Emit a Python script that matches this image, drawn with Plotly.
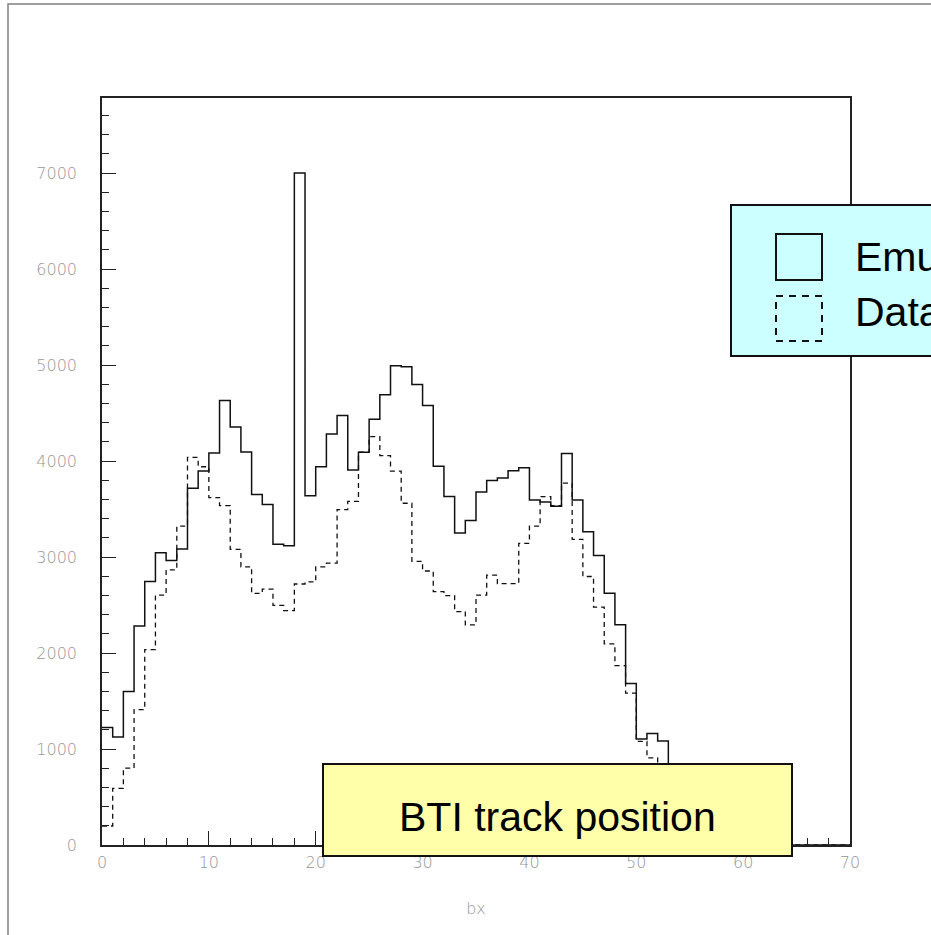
import plotly.graph_objects as go

# ---- data (bin width 1, bins 0..69) ----
bin_edges = list(range(0, 71))
emulator = [1223, 1126, 1600, 2281, 2744, 3045, 2963, 3084, 3716, 3895,
            4084, 4629, 4353, 4095, 3651, 3547, 3134, 3117, 7000, 3639,
            3940, 4281, 4475, 3905, 4092, 4435, 4690, 4992, 4981, 4798,
            4579, 3945, 3629, 3249, 3381, 3676, 3798, 3823, 3898, 3930,
            3594, 3572, 3529, 4077, 3594, 3264, 3016, 2622, 2295, 1682,
            1104, 1162, 1083, 700, 420, 220, 90, 30, 0, 0,
            0, 0, 0, 0, 0, 0, 0, 0, 0, 0]
data = [198, 589, 800, 1410, 2036, 2603, 2866, 3321, 4037, 3940,
        3619, 3535, 3080, 2898, 2622, 2665, 2496, 2442, 2719, 2740,
        2898, 2937, 3493, 3579, 4092, 4253, 4056, 3895, 3560, 2955,
        2854, 2640, 2597, 2431, 2292, 2603, 2811, 2722, 2722, 3142,
        3321, 3629, 3535, 3769, 3184, 2797, 2478, 2095, 1869, 1581,
        1079, 907, 800, 550, 300, 150, 50, 0, 0, 0,
        0, 0, 0, 0, 0, 0, 0, 0, 0, 0]
x_ticks = [0, 10, 20, 30, 40, 50, 60, 70]
y_ticks = [0, 1000, 2000, 3000, 4000, 5000, 6000, 7000]
title_text = "BTI track position"
legend_labels = ["Emulator", "Data"]
x_title = "bx"

W, H = 931, 935
L, R, T, B = 102, 850, 98, 845


def px(x):
    return (x - L) / (R - L)


def py(y):
    return (B - y) / (B - T)


fig = go.Figure()
fig.add_trace(go.Scatter(x=bin_edges, y=data + [data[-1]], mode="lines",
                         line=dict(shape="hv", color="#111", width=1.3, dash="5px,4px"),
                         showlegend=False, hoverinfo="skip"))
fig.add_trace(go.Scatter(x=bin_edges, y=emulator + [emulator[-1]], mode="lines",
                         line=dict(shape="hv", color="#111", width=1.5),
                         showlegend=False, hoverinfo="skip"))

tickfont = dict(family="DejaVu Sans", size=16, color="#969696", weight=200)
axline = dict(showline=True, linecolor="#222", linewidth=1.5, mirror=True,
              showgrid=False, zeroline=False, ticks="inside", tickcolor="#222",
              tickwidth=1.2, ticklen=14, tickfont=tickfont)

fig.update_xaxes(range=[0, 70], tickvals=x_ticks, ticktext=[str(v) for v in x_ticks],
                 minor=dict(ticks="inside", dtick=2, ticklen=7, tickcolor="#222", tickwidth=1.2),
                 ticklabelstandoff=2,
                 title=dict(text=x_title, font=dict(family="DejaVu Sans", size=16, color="#969696", weight=200),
                            standoff=32),
                 **axline)
fig.update_yaxes(range=[0, (B - T) / 0.096], tickvals=y_ticks, ticktext=[str(v) for v in y_ticks],
                 minor=dict(ticks="inside", dtick=200, ticklen=7, tickcolor="#222", tickwidth=1.2),
                 ticklabelstandoff=20,
                 **axline)

shapes = [
    # outer canvas frame
    dict(type="rect", xref="paper", yref="paper", x0=px(8), x1=px(990), y0=py(990), y1=py(4),
         line=dict(color="#808080", width=1.5), fillcolor="rgba(0,0,0,0)", layer="above"),
    # legend box
    dict(type="rect", xref="paper", yref="paper", x0=px(731), x1=px(1000), y0=py(356), y1=py(205),
         line=dict(color="#111", width=2), fillcolor="#ccffff", layer="above"),
    dict(type="rect", xref="paper", yref="paper", x0=px(776), x1=px(822), y0=py(280), y1=py(234),
         line=dict(color="#111", width=2), fillcolor="rgba(0,0,0,0)", layer="above"),
    dict(type="rect", xref="paper", yref="paper", x0=px(776), x1=px(822), y0=py(341), y1=py(296),
         line=dict(color="#111", width=2, dash="7px,6px"), fillcolor="rgba(0,0,0,0)", layer="above"),
    # title box
    dict(type="rect", xref="paper", yref="paper", x0=px(323), x1=px(792), y0=py(856), y1=py(764),
         line=dict(color="#111", width=2), fillcolor="#ffffaa", layer="above"),
]

bigfont = dict(family="Liberation Sans, Arial", size=41, color="#000")
annotations = [
    dict(text=title_text, xref="paper", yref="paper", x=px(557), y=py(817),
         xanchor="center", yanchor="middle", showarrow=False, font=bigfont),
    dict(text=legend_labels[0], xref="paper", yref="paper", x=px(853), y=py(257),
         xanchor="left", yanchor="middle", showarrow=False, font=bigfont),
    dict(text=legend_labels[1], xref="paper", yref="paper", x=px(853), y=py(312),
         xanchor="left", yanchor="middle", showarrow=False, font=bigfont),
]

fig.update_layout(width=W, height=H, margin=dict(l=L, r=W - R, t=T, b=H - B),
                  paper_bgcolor="white", plot_bgcolor="white",
                  shapes=shapes, annotations=annotations, showlegend=False)

fig.write_html("out.html")
